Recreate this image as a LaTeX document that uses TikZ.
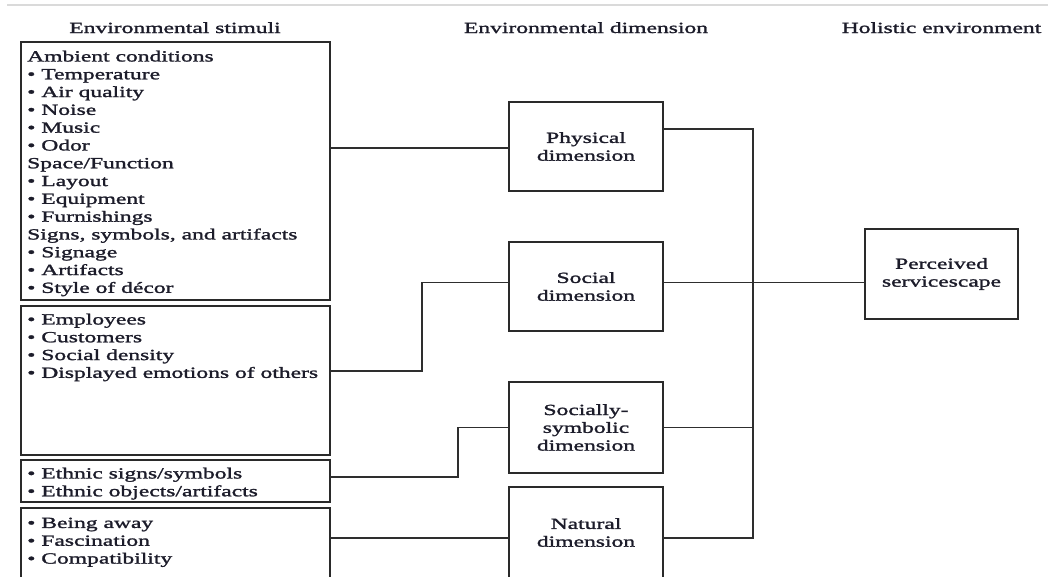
\documentclass[tikz,border=0pt]{standalone}
\usepackage{fontspec}
\setmainfont{Liberation Serif}[FakeStretch=1.52,UprightFeatures={FakeBold=1.6}]
\usetikzlibrary{calc}
\definecolor{framec}{HTML}{2A2A2A}
\definecolor{wirec}{HTML}{2E2E2E}
\definecolor{inkc}{HTML}{1C1C2A}
\definecolor{rulec}{HTML}{DADADA}
\newcommand\diagfont{\fontsize{15.5pt}{17.8pt}\selectfont}
\begin{document}
\begin{tikzpicture}[x=1pt,y=-1pt,
  stimbox/.style={draw=framec, line width=1.8pt, inner sep=0pt, outer sep=0pt,
    anchor=north west, minimum width=309pt},
  dimbox/.style={draw=framec, line width=1.8pt, inner sep=0pt, outer sep=0pt,
    minimum width=154pt, minimum height=89pt, align=center, font=\diagfont, text=inkc},
  itemlist/.style={anchor=north west, inner sep=0pt, align=left, font=\diagfont, text=inkc},
  colhead/.style={anchor=base, inner sep=0pt, font=\diagfont, text=inkc},
  wire/.style={draw=wirec, line width=1.5pt}]
\useasboundingbox (0,0) rectangle (1048,576);
\clip (0,0) rectangle (1048,576);

% thin rule along the top
\draw[draw=rulec, line width=1.2pt] (7,5) -- (1048,5);

% column headings
\node[colhead] (h1) at (175,33) {Environmental stimuli};
\node[colhead] (h2) at (586,33) {Environmental dimension};
\node[colhead] (h3) at (941.5,33) {Holistic environment};

% stimulus boxes
\node[stimbox, minimum height=258pt] (s1) at (21,42) {};
\node[stimbox, minimum height=149pt] (s2) at (21,306) {};
\node[stimbox, minimum height=42pt] (s3) at (21,460) {};
\node[stimbox, minimum height=100pt] (s4) at (21,508) {};

\node[itemlist] (t1) at ($(s1.north west)+(6,8.5)$) {Ambient conditions\\• Temperature\\• Air quality\\• Noise\\• Music\\• Odor\\Space/Function\\• Layout\\• Equipment\\• Furnishings\\Signs, symbols, and artifacts\\• Signage\\• Artifacts\\• Style of décor};
\node[itemlist] (t2) at ($(s2.north west)+(6,7.5)$) {• Employees\\• Customers\\• Social density\\• Displayed emotions of others};
\node[itemlist] (t3) at ($(s3.north west)+(6,7.5)$) {• Ethnic signs/symbols\\• Ethnic objects/artifacts};
\node[itemlist] (t4) at ($(s4.north west)+(6,9.5)$) {• Being away\\• Fascination\\• Compatibility};

% dimension boxes
\node[dimbox] (phys) at (586,146.5) {Physical\\dimension};
\node[dimbox] (soc) at (586,286.5) {Social\\dimension};
\node[dimbox, minimum height=91pt] (sym) at (586,427.5) {Socially-\\symbolic\\dimension};
\node[dimbox, minimum height=91pt] (nat) at (586,532.5) {Natural\\dimension};

% holistic box
\node[dimbox, minimum width=153pt, minimum height=90pt] (perc) at (941.5,274) {Perceived\\servicescape};

% collecting bus on the right
\coordinate (bus) at (753,0);

% stimuli to dimensions
\draw[wire] (s1.east |- 0,148) -- (phys.west |- 0,148);
\draw[wire] (s2.east |- 0,371) -| (422,282.5) -- (soc.west |- 0,282.5);
\draw[wire] (s3.east |- 0,477) -| (458,427.5) -- (sym.west);
\draw[wire] (s4.east |- 0,538) -- (nat.west |- 0,538);

% dimensions to perceived servicescape
\draw[wire] (phys.east |- 0,129) -| (bus |- 0,538) -- (nat.east |- 0,538);
\draw[wire] (soc.east |- 0,282.5) -- (perc.west |- 0,282.5);
\draw[wire] (sym.east) -- (sym.east -| bus);
\end{tikzpicture}
\end{document}
